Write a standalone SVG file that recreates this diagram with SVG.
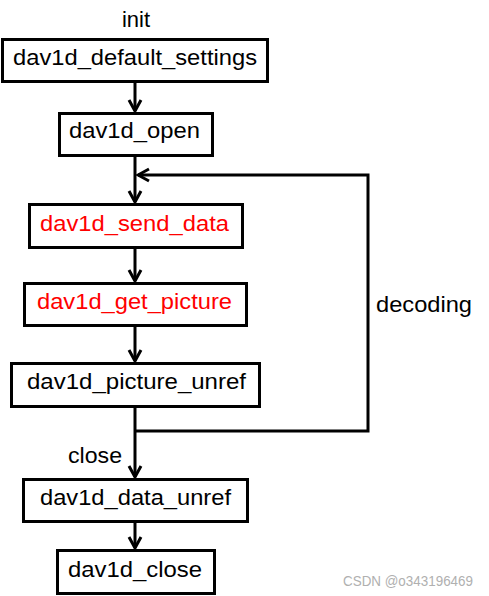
<svg xmlns="http://www.w3.org/2000/svg" width="489" height="596" viewBox="0 0 489 596">
<style>
.box{fill:#fff;stroke:#000;stroke-width:3}
.t{font-family:"Liberation Sans",Arial,sans-serif;font-size:22px;fill:#000}
.red{fill:#ff0000}
.c{fill:none;stroke:#000;stroke-width:3}
.wm{font-family:"Liberation Sans",Arial,sans-serif;font-size:14px;fill:#b0b0b0}
</style>
<defs>
<marker id="ah" markerUnits="userSpaceOnUse" viewBox="-12 -8 14 16" refX="0" refY="0" markerWidth="14" markerHeight="16" orient="auto">
<path d="M-11,-6 L0,0 L-11,6" fill="none" stroke="#000" stroke-width="3"/>
</marker>
</defs>
<rect width="489" height="596" fill="#fff"/>
<g id="connectors">
<line class="c" x1="135" y1="82" x2="135" y2="111" marker-end="url(#ah)"/>
<line class="c" x1="135" y1="156" x2="135" y2="202" marker-end="url(#ah)"/>
<line class="c" x1="135" y1="248" x2="135" y2="281" marker-end="url(#ah)"/>
<line class="c" x1="135" y1="326" x2="135" y2="361" marker-end="url(#ah)"/>
<line class="c" x1="135" y1="407" x2="135" y2="477" marker-end="url(#ah)"/>
<line class="c" x1="135" y1="522" x2="135" y2="548" marker-end="url(#ah)"/>
<polyline class="c" points="135,431 368,431 368,175 138,175" marker-end="url(#ah)"/>
<text class="t" x="136" y="27" text-anchor="middle">init</text>
<text class="t" x="376" y="312" textLength="96" lengthAdjust="spacingAndGlyphs">decoding</text>
<text class="t" x="68" y="463" textLength="54" lengthAdjust="spacingAndGlyphs">close</text>
</g>
<g id="n1"><rect class="box" x="2.5" y="39.5" width="265" height="42"/><text class="t" x="13" y="65" textLength="244" lengthAdjust="spacingAndGlyphs">dav1d_default_settings</text></g>
<g id="n2"><rect class="box" x="59.5" y="113.5" width="153" height="42"/><text class="t" x="69" y="138" textLength="131" lengthAdjust="spacingAndGlyphs">dav1d_open</text></g>
<g id="n3"><rect class="box" x="29.5" y="204.5" width="213" height="43"/><text class="t red" x="40" y="231" textLength="189" lengthAdjust="spacingAndGlyphs">dav1d_send_data</text></g>
<g id="n4"><rect class="box" x="24.5" y="283.5" width="222" height="42"/><text class="t red" x="37" y="309" textLength="195" lengthAdjust="spacingAndGlyphs">dav1d_get_picture</text></g>
<g id="n5"><rect class="box" x="11.5" y="363.5" width="248" height="43"/><text class="t" x="27" y="389" textLength="219" lengthAdjust="spacingAndGlyphs">dav1d_picture_unref</text></g>
<g id="n6"><rect class="box" x="23.5" y="479.5" width="224" height="42"/><text class="t" x="40" y="505" textLength="191" lengthAdjust="spacingAndGlyphs">dav1d_data_unref</text></g>
<g id="n7"><rect class="box" x="57.5" y="550.5" width="157" height="43"/><text class="t" x="68" y="577" textLength="134" lengthAdjust="spacingAndGlyphs">dav1d_close</text></g>
<text class="wm" x="343" y="586" textLength="130" lengthAdjust="spacingAndGlyphs">CSDN @o343196469</text>
</svg>
